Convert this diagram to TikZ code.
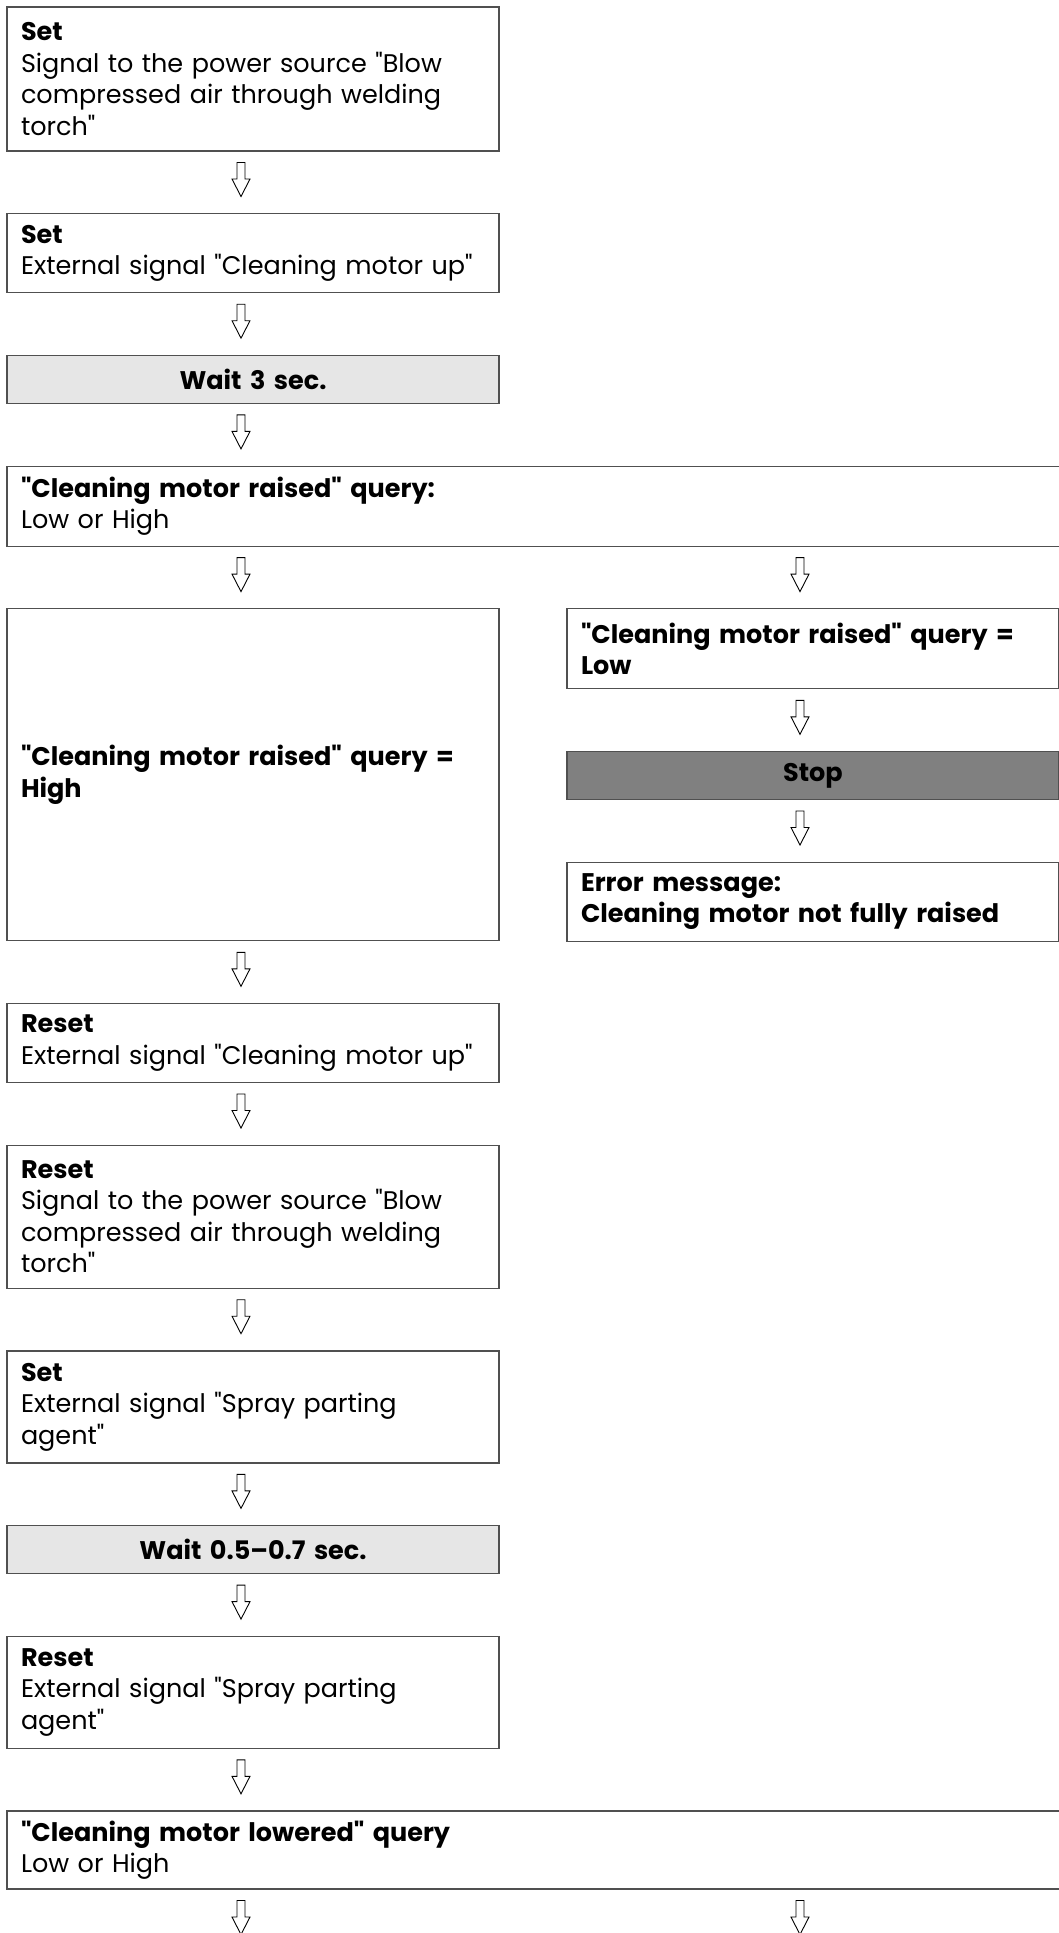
\documentclass[tikz,border=0pt]{standalone}
\usepackage{fontspec}
\setmainfont[Ligatures=TeXOff]{Poppins}
\usepackage{xcolor}
\usepackage{tikz}
\usetikzlibrary{calc,positioning}
\definecolor{framegrey}{RGB}{80,80,80}
\definecolor{waitgrey}{RGB}{230,230,230}
\definecolor{stopgrey}{RGB}{128,128,128}
\tikzset{
  stepbox/.style={draw=framegrey,line width=1.2pt,fill=white,outer sep=0pt,
    text width=464pt,align=left,inner xsep=14pt,inner ysep=0pt,
    minimum height=#1,font=\fontsize{25.5}{31.5}\selectfont},
  stepbox/.default=79pt,
  widebox/.style={stepbox=#1,text width=1032pt},
  waitbox/.style={stepbox=48pt,fill=waitgrey,align=center,
    font=\fontsize{25.5}{31.5}\selectfont\bfseries},
  stopbox/.style={waitbox,fill=stopgrey},
  pointer/.style={draw=black,fill=white,line width=0.9pt,line join=miter,
    to path={++(-4,-11.5) -- ++(0,-16.5) -- ++(-5,0) -- ++(9,-17.5)
      -- ++(9,17.5) -- ++(-5,0) -- ++(0,16.5) -- cycle}}
}

\begin{document}
\begin{tikzpicture}[x=1pt,y=1pt,node distance=62.7pt and 68pt]
  \useasboundingbox (0,0) rectangle (1058,-1933);
  % main column
  \node[stepbox=144pt,anchor=north west] (set1) at (7,-7)
    {\textbf{Set}\\Signal to the power source "Blow\\compressed air through welding\\torch"};
  \node[stepbox=79pt,below=of set1.south west,anchor=north west] (set2)
    {\textbf{Set}\\External signal "Cleaning motor up"};
  \node[waitbox,below=of set2.south west,anchor=north west] (wait1) {Wait 3 sec.};
  \node[widebox=80pt,below=of wait1.south west,anchor=north west] (query1)
    {\textbf{"Cleaning motor raised" query:}\\Low or High};
  \node[stepbox=332pt,below=of query1.south west,anchor=north west,
    font=\fontsize{25.5}{31.5}\selectfont\bfseries] (high)
    {"Cleaning motor raised" query =\\High};
  \node[stepbox=79pt,below=of high.south west,anchor=north west] (reset1)
    {\textbf{Reset}\\External signal "Cleaning motor up"};
  \node[stepbox=143pt,below=of reset1.south west,anchor=north west] (reset2)
    {\textbf{Reset}\\Signal to the power source "Blow\\compressed air through welding\\torch"};
  \node[stepbox=112pt,below=of reset2.south west,anchor=north west] (set3)
    {\textbf{Set}\\External signal "Spray parting\\agent"};
  \node[waitbox,below=of set3.south west,anchor=north west] (wait2) {Wait 0.5–0.7 sec.};
  \node[stepbox=112pt,below=of wait2.south west,anchor=north west] (reset3)
    {\textbf{Reset}\\External signal "Spray parting\\agent"};
  \node[widebox=78pt,below=of reset3.south west,anchor=north west] (query2)
    {\textbf{"Cleaning motor lowered" query}\\Low or High};
  % error branch
  \node[stepbox=80pt,right=of high.north east,anchor=north west,
    font=\fontsize{25.5}{31.5}\selectfont\bfseries] (low)
    {"Cleaning motor raised" query =\\Low};
  \node[stopbox,below=of low.south west,anchor=north west] (stop) {Stop};
  \node[stepbox=79pt,below=of stop.south west,anchor=north west,
    font=\fontsize{25.5}{31.5}\selectfont\bfseries] (error)
    {Error message:\\Cleaning motor not fully raised};
  \coordinate (branch) at ([xshift=233pt]low.north west);
  \coordinate (endL) at ([xshift=234pt,yshift=-45pt]query2.south west);
  \coordinate (endR) at ($(branch |- query2.south)+(0,-45)$);
  % arrows
  \draw[pointer] ([xshift=234pt]set1.south west) to ([xshift=234pt]set2.north west);
  \draw[pointer] ([xshift=234pt]set2.south west) to ([xshift=234pt]wait1.north west);
  \draw[pointer] ([xshift=234pt]wait1.south west) to ([xshift=234pt]query1.north west);
  \draw[pointer] ([xshift=234pt]query1.south west) to ([xshift=234pt]high.north west);
  \draw[pointer] (branch |- query1.south) to (branch);
  \draw[pointer] ([xshift=233pt]low.south west) to ([xshift=233pt]stop.north west);
  \draw[pointer] ([xshift=233pt]stop.south west) to ([xshift=233pt]error.north west);
  \draw[pointer] ([xshift=234pt]high.south west) to ([xshift=234pt]reset1.north west);
  \draw[pointer] ([xshift=234pt]reset1.south west) to ([xshift=234pt]reset2.north west);
  \draw[pointer] ([xshift=234pt]reset2.south west) to ([xshift=234pt]set3.north west);
  \draw[pointer] ([xshift=234pt]set3.south west) to ([xshift=234pt]wait2.north west);
  \draw[pointer] ([xshift=234pt]wait2.south west) to ([xshift=234pt]reset3.north west);
  \draw[pointer] ([xshift=234pt]reset3.south west) to ([xshift=234pt]query2.north west);
  \draw[pointer] ([xshift=234pt]query2.south west) to (endL);
  \draw[pointer] (branch |- query2.south) to (endR);
\end{tikzpicture}
\end{document}
